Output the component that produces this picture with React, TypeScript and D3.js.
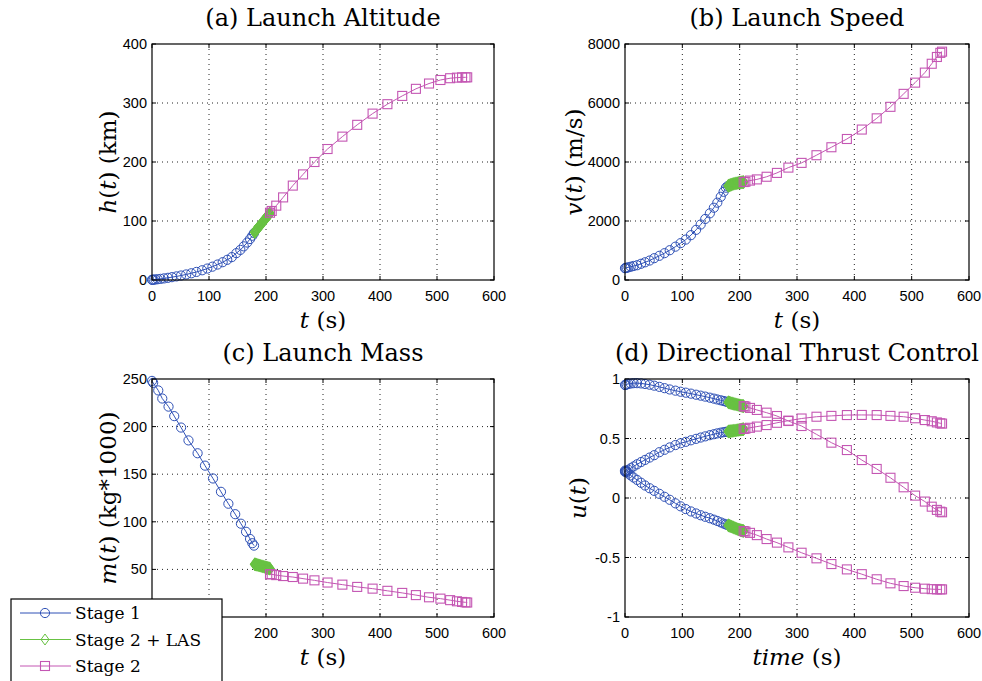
import React from 'react';
import * as d3 from 'd3';

// time grids (s)
const stage1Time = [0, 1, 3, 6, 10, 15, 21, 28, 35, 43, 51, 60, 69, 78, 88, 97, 106, 115, 124, 132, 140, 148, 155, 161, 167, 172, 176, 179];
const lasTime = [180, 180.5, 181.2, 182, 183, 184.2, 185.5, 187, 188.5, 190, 191.7, 193.4, 195, 196.7, 198.3, 199.8, 201.2, 202.5, 203.6, 204.6, 205.4, 206, 206.5, 207];
const stage2Time = [207, 210, 218, 230, 247, 265, 285, 308, 334, 360, 387, 413, 439, 463, 486, 506, 523, 535, 544, 550, 553];
const massStage1Time = [0, 2, 11, 18, 29, 39, 51, 64, 80, 93, 107, 121, 134, 146, 156, 165, 172, 176, 179];

// (a) altitude, km
const altStage1 = [0.3, 0.4, 0.6, 0.9, 1.3, 1.9, 2.7, 3.7, 4.8, 6.1, 7.6, 9.4, 11.4, 13.7, 16.5, 19.4, 22.6, 26.2, 30.2, 34.2, 38.8, 45.5, 51, 57, 63.5, 69.5, 75, 79.5];
const altLas = [81, 81.6, 82.4, 83.4, 84.6, 86, 87.6, 89.4, 91.2, 93, 95.1, 97.1, 99.1, 101.1, 103, 104.8, 106.5, 108.1, 109.4, 110.6, 111.5, 112.2, 112.6, 113];
const altStage2 = [114, 117, 126, 140, 160, 179, 200, 222, 243, 263, 282, 298, 312, 324, 333, 339, 342, 343, 343.5, 343.5, 343.5];

// (b) speed, m/s
const speedStage1 = [400, 405, 415, 430, 450, 475, 500, 550, 600, 660, 740, 820, 910, 1010, 1130, 1250, 1370, 1520, 1700, 1880, 2070, 2260, 2450, 2620, 2820, 2990, 3130, 3180];
const speedLas = [3190, 3194, 3200, 3207, 3215, 3224, 3233, 3243, 3252, 3260, 3268, 3276, 3283, 3290, 3296, 3301, 3305, 3309, 3312, 3314, 3316, 3317, 3318, 3318];
const speedStage2 = [3320, 3330, 3370, 3410, 3500, 3630, 3810, 3970, 4230, 4500, 4780, 5100, 5480, 5870, 6310, 6690, 7030, 7330, 7560, 7700, 7740];

// (c) mass, kg*1000
const massStage1 = [248, 246, 238, 229.5, 221, 211, 199, 185.5, 172, 159, 145.5, 131.5, 119, 108, 98, 89.5, 82, 77.5, 75];
const massLas = [55.5, 55.4, 55.3, 55.2, 55, 54.8, 54.6, 54.3, 54.1, 53.8, 53.5, 53.2, 53, 52.7, 52.4, 52.2, 51.9, 51.7, 51.5, 51.3, 51.1, 51, 50.9, 50.8];
const massStage2 = [45, 44.8, 44, 43, 42, 40.3, 38.5, 36.2, 34, 31.6, 29.8, 27.5, 25.3, 23, 20.7, 19.3, 17.7, 16.5, 15.8, 15.4, 15.2];

// (d) thrust direction components
const u1Stage1 = [0.95, 0.95, 0.955, 0.96, 0.962, 0.965, 0.965, 0.963, 0.958, 0.952, 0.944, 0.934, 0.923, 0.912, 0.902, 0.893, 0.885, 0.877, 0.868, 0.86, 0.852, 0.843, 0.835, 0.828, 0.821, 0.815, 0.81, 0.806];
const u1Las = [0.805, 0.804, 0.803, 0.802, 0.8, 0.799, 0.797, 0.795, 0.793, 0.791, 0.789, 0.787, 0.785, 0.783, 0.781, 0.779, 0.778, 0.776, 0.775, 0.774, 0.773, 0.773, 0.772, 0.772];
const u1Stage2 = [0.772, 0.768, 0.757, 0.74, 0.717, 0.689, 0.647, 0.605, 0.535, 0.465, 0.403, 0.319, 0.244, 0.17, 0.09, 0.02, -0.03, -0.073, -0.1, -0.115, -0.12];
const u2Stage1 = [0.22, 0.222, 0.228, 0.237, 0.25, 0.265, 0.283, 0.302, 0.32, 0.34, 0.36, 0.385, 0.405, 0.425, 0.445, 0.46, 0.472, 0.485, 0.497, 0.508, 0.518, 0.528, 0.536, 0.543, 0.549, 0.553, 0.556, 0.558];
const u2Las = [0.559, 0.559, 0.56, 0.56, 0.561, 0.562, 0.563, 0.564, 0.565, 0.566, 0.567, 0.568, 0.57, 0.571, 0.572, 0.573, 0.574, 0.575, 0.576, 0.577, 0.577, 0.578, 0.578, 0.579];
const u2Stage2 = [0.58, 0.583, 0.59, 0.6, 0.613, 0.632, 0.65, 0.668, 0.683, 0.69, 0.697, 0.698, 0.697, 0.69, 0.683, 0.67, 0.655, 0.645, 0.635, 0.628, 0.625];
const u3Stage1 = [0.23, 0.226, 0.218, 0.206, 0.19, 0.172, 0.152, 0.128, 0.105, 0.082, 0.06, 0.035, 0.01, -0.015, -0.045, -0.07, -0.093, -0.113, -0.13, -0.145, -0.158, -0.17, -0.182, -0.193, -0.205, -0.215, -0.222, -0.227];
const u3Las = [-0.229, -0.23, -0.231, -0.233, -0.235, -0.237, -0.24, -0.243, -0.246, -0.249, -0.252, -0.256, -0.259, -0.262, -0.265, -0.267, -0.27, -0.272, -0.273, -0.275, -0.276, -0.276, -0.277, -0.277];
const u3Stage2 = [-0.278, -0.282, -0.293, -0.312, -0.345, -0.375, -0.415, -0.46, -0.507, -0.555, -0.6, -0.64, -0.683, -0.717, -0.74, -0.754, -0.762, -0.766, -0.768, -0.768, -0.768];

// ticks
const timeTicks = [0, 100, 200, 300, 400, 500, 600];
const altTicks = [0, 100, 200, 300, 400];
const speedTicks = [0, 2000, 4000, 6000, 8000];
const massTicks = [0, 50, 100, 150, 200, 250];
const controlTicks = [-1, -0.5, 0, 0.5, 1];

const legendLabels = ['Stage 1', 'Stage 2 + LAS', 'Stage 2'];

const BLUE = '#2f51b6';
const GREEN = '#68c243';
const MAGENTA = '#c456b3';
const SERIF = '"DejaVu Serif", serif';
const SANS = '"Liberation Sans", Arial, sans-serif';

type Kind = 'circle' | 'diamond' | 'square';
type Series = { t: number[]; y: number[]; kind: Kind };

const colorOf = (k: Kind) => (k === 'circle' ? BLUE : k === 'diamond' ? GREEN : MAGENTA);

function Marker({ kind, x, y, w = 1 }: { kind: Kind; x: number; y: number; w?: number }) {
  const c = colorOf(kind);
  if (kind === 'circle') return <circle cx={x} cy={y} r={4.6} fill="none" stroke={c} strokeWidth={1} />;
  if (kind === 'square') return <rect x={x - 4.5} y={y - 4.5} width={9} height={9} fill="none" stroke={c} strokeWidth={1.1} />;
  return <path d={`M${x},${y - 5.5}L${x + 4},${y}L${x},${y + 5.5}L${x - 4},${y}Z`} fill="none" stroke={c} strokeWidth={w} />;
}

type PanelProps = {
  box: { left: number; top: number; right: number; bottom: number };
  yDomain: [number, number];
  yTicks: number[];
  title: string;
  yLabel: React.ReactNode;
  xLabel: React.ReactNode;
  yLabelX: number;
  series: Series[];
  hiddenX?: number[];
  hiddenY?: number[];
};

function Panel({ box, yDomain, yTicks, title, yLabel, xLabel, yLabelX, series, hiddenX = [], hiddenY = [] }: PanelProps) {
  const x = d3.scaleLinear().domain([0, 600]).range([box.left, box.right]);
  const y = d3.scaleLinear().domain(yDomain).range([box.bottom, box.top]);
  const midX = (box.left + box.right) / 2;
  const midY = (box.top + box.bottom) / 2;
  const tl = 4;

  return (
    <g>
      <rect x={box.left} y={box.top} width={box.right - box.left} height={box.bottom - box.top} fill="#fff" />
      {/* grid */}
      {timeTicks.slice(1, -1).map(v => (
        <line key={'gx' + v} x1={x(v)} x2={x(v)} y1={box.top} y2={box.bottom} stroke="#222" strokeWidth={1} strokeDasharray="1,4" />
      ))}
      {yTicks.filter(v => v !== yDomain[0] && v !== yDomain[1]).map(v => (
        <line key={'gy' + v} x1={box.left} x2={box.right} y1={y(v)} y2={y(v)} stroke="#222" strokeWidth={1} strokeDasharray="1,4" />
      ))}
      {/* ticks */}
      {timeTicks.map(v => (
        <g key={'tx' + v}>
          <line x1={x(v)} x2={x(v)} y1={box.bottom} y2={box.bottom - tl} stroke="#000" />
          <line x1={x(v)} x2={x(v)} y1={box.top} y2={box.top + tl} stroke="#000" />
          {!hiddenX.includes(v) && (
            <text x={x(v)} y={box.bottom + 21} textAnchor="middle" fontFamily={SANS} fontSize={14.5} fill="#000">{v}</text>
          )}
        </g>
      ))}
      {yTicks.map(v => (
        <g key={'ty' + v}>
          <line x1={box.left} x2={box.left + tl} y1={y(v)} y2={y(v)} stroke="#000" />
          <line x1={box.right} x2={box.right - tl} y1={y(v)} y2={y(v)} stroke="#000" />
          {!hiddenY.includes(v) && (
            <text x={box.left - 5} y={y(v) + 5} textAnchor="end" fontFamily={SANS} fontSize={14.5} fill="#000">{String(v)}</text>
          )}
        </g>
      ))}
      {/* data */}
      {series.map((s, i) => {
        const pts = s.t.map((t, j) => [x(t), y(s.y[j])] as [number, number]);
        const path = d3.line()(pts) || '';
        return (
          <g key={i}>
            <path d={path} fill="none" stroke={colorOf(s.kind)} strokeWidth={1} />
            {pts.map((p, j) => <Marker key={j} kind={s.kind} x={p[0]} y={p[1]} w={1.5} />)}
          </g>
        );
      })}
      <rect x={box.left} y={box.top} width={box.right - box.left} height={box.bottom - box.top} fill="none" stroke="#000" strokeWidth={1.2} />
      <text x={midX} y={box.top - 18} textAnchor="middle" fontFamily={SERIF} fontSize={24} fill="#000">{title}</text>
      <text x={midX} y={box.bottom + 48} textAnchor="middle" fontFamily={SERIF} fontSize={23} fill="#000">{xLabel}</text>
      <text transform={`translate(${yLabelX},${midY}) rotate(-90)`} textAnchor="middle" fontFamily={SERIF} fontSize={23} fill="#000">{yLabel}</text>
    </g>
  );
}

const stages = (t1: number[], a: number[], b: number[], c: number[]): Series[] => [
  { t: t1, y: a, kind: 'circle' },
  { t: lasTime, y: b, kind: 'diamond' },
  { t: stage2Time, y: c, kind: 'square' },
];

export default function App() {
  const boxA = { left: 152, top: 44, right: 494, bottom: 280 };
  const boxB = { left: 625, top: 44, right: 969, bottom: 280 };
  const boxC = { left: 152, top: 379, right: 494, bottom: 617 };
  const boxD = { left: 625, top: 379, right: 969, bottom: 617 };
  const it = (s: string) => <tspan fontStyle="italic">{s}</tspan>;
  const legendKinds: Kind[] = ['circle', 'diamond', 'square'];

  return (
    <svg width={982} height={681} style={{ position: 'absolute', left: 0, top: 0, background: '#fff' }}>
      <rect width={982} height={681} fill="#fff" />
      <Panel box={boxA} yDomain={[0, 400]} yTicks={altTicks} title="(a) Launch Altitude"
        yLabel={<>{it('h')}({it('t')}) (km)</>} xLabel={<>{it('t')} (s)</>} yLabelX={116}
        series={stages(stage1Time, altStage1, altLas, altStage2)} />
      <Panel box={boxB} yDomain={[0, 8000]} yTicks={speedTicks} title="(b) Launch Speed"
        yLabel={<>{it('v')}({it('t')}) (m/s)</>} xLabel={<>{it('t')} (s)</>} yLabelX={582}
        series={stages(stage1Time, speedStage1, speedLas, speedStage2)} />
      <Panel box={boxC} yDomain={[0, 250]} yTicks={massTicks} title="(c) Launch Mass"
        yLabel={<>{it('m')}({it('t')}) (kg*1000)</>} xLabel={<>{it('t')} (s)</>} yLabelX={116}
        series={stages(massStage1Time, massStage1, massLas, massStage2)}
        hiddenX={[0, 100]} hiddenY={[0]} />
      <Panel box={boxD} yDomain={[-1, 1]} yTicks={controlTicks} title="(d) Directional Thrust Control"
        yLabel={<>{it('u')}({it('t')})</>} xLabel={<>{it('time')} (s)</>} yLabelX={586}
        series={[
          ...stages(stage1Time, u1Stage1, u1Las, u1Stage2),
          ...stages(stage1Time, u2Stage1, u2Las, u2Stage2),
          ...stages(stage1Time, u3Stage1, u3Las, u3Stage2),
        ]} />
      {/* legend */}
      <g>
        <rect x={11} y={599} width={211} height={92} fill="#fff" stroke="#000" strokeWidth={1.2} />
        {legendLabels.map((lab, i) => {
          const ly = 613 + i * 26.5;
          const k = legendKinds[i];
          return (
            <g key={lab}>
              <line x1={20} x2={71} y1={ly} y2={ly} stroke={colorOf(k)} strokeWidth={1} />
              <Marker kind={k} x={45} y={ly} />
              <text x={75} y={ly + 6} fontFamily={SERIF} fontSize={17} fill="#000">{lab}</text>
            </g>
          );
        })}
      </g>
    </svg>
  );
}
